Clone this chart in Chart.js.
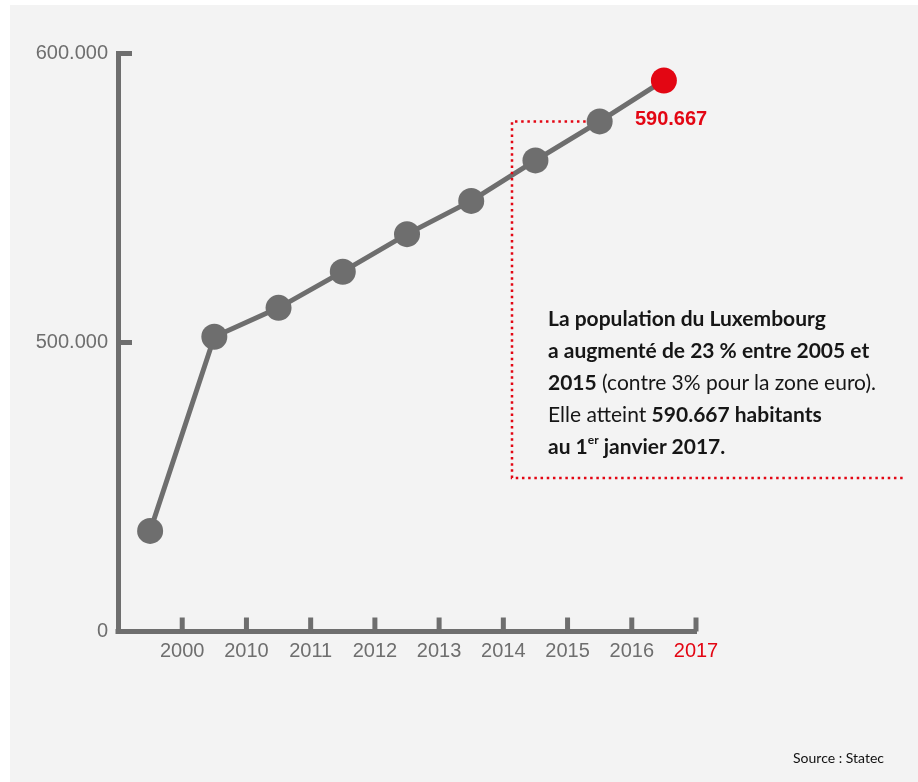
<!DOCTYPE html>
<html>
<head>
<meta charset="utf-8">
<script src="https://cdn.jsdelivr.net/npm/chart.js@4.4.1/dist/chart.umd.min.js"></script>
<style>
  body { margin: 0; background: #fff; }
  .frame { position: relative; width: 918px; height: 782px; overflow: hidden; }
  .bg { position: absolute; left: 10px; top: 5px; right: 0; bottom: 0; background: #f3f3f3; }
  canvas { position: absolute; left: 0; top: 0; }
  .note {
    position: absolute; left: 548px; top: 302px;
    font-family: Lato, "Open Sans", sans-serif; font-size: 21px; line-height: 32px;
    color: #161616; white-space: nowrap;
  }
  .note b { font-weight: 700; }
  .note sup { font-size: 12px; line-height: 0; position: relative; top: -2px; }
  .source {
    position: absolute; right: 34px; top: 749px;
    font-family: Lato, "Open Sans", sans-serif; font-size: 14px; line-height: 18px; color: #111;
  }
</style>
</head>
<body>
<div class="frame">
  <div class="bg"></div>
  <canvas id="chart" width="918" height="782"></canvas>
  <div class="note">
    <b>La population du Luxembourg</b><br>
    <b>a augmenté de 23 % entre 2005 et</b><br>
    <b>2015</b> (contre 3% pour la zone euro).<br>
    Elle atteint <b>590.667 habitants</b><br>
    <b>au 1<sup>er</sup> janvier 2017.</b>
  </div>
  <div class="source">Source : Statec</div>
</div>
<script>
const years = ["2000", "2010", "2011", "2012", "2013", "2014", "2015", "2016", "2017"];
const population = [174000, 502000, 512000, 524500, 537500, 549000, 563000, 576500, 590667];
const yTicks = [0, 500000, 600000];

const GREY = "#6e6e6e";
const RED = "#e30613";

// y axis is broken: 0-500.000 takes the lower half, 500.000-600.000 the upper half
class BrokenScale extends Chart.LinearScale {
  getPixelForValue(value) {
    const f = value <= 500000 ? 0.5 * value / 500000 : 0.5 + 0.5 * (value - 500000) / 100000;
    return this.getPixelForDecimal(f);
  }
  getValueForPixel(pixel) {
    const f = this.getDecimalForPixel(pixel);
    return f <= 0.5 ? f * 2 * 500000 : 500000 + (f - 0.5) * 2 * 100000;
  }
}
BrokenScale.id = "broken";
BrokenScale.defaults = Chart.LinearScale.defaults;
Chart.register(BrokenScale);

const decor = {
  id: "decor",
  beforeDatasetsDraw(chart) {
    const { ctx, scales: { x, y } } = chart;
    ctx.save();
    ctx.strokeStyle = GREY;
    ctx.lineWidth = 5;
    // inward tick marks
    x.ticks.forEach((t) => {
      const px = x.getPixelForValue(t.value);
      ctx.beginPath();
      ctx.moveTo(px, y.bottom);
      ctx.lineTo(px, y.bottom - 14);
      ctx.stroke();
    });
    yTicks.slice(1).forEach((v) => {
      const py = y.getPixelForValue(v);
      ctx.beginPath();
      ctx.moveTo(x.left - 2, py);
      ctx.lineTo(x.left + 14, py);
      ctx.stroke();
    });
    // corner
    ctx.fillStyle = GREY;
    ctx.fillRect(x.left - 2.5, y.bottom - 2.5, 5, 5);
    ctx.restore();
  },
  afterDatasetsDraw(chart) {
    const { ctx } = chart;
    const pts = chart.getDatasetMeta(0).data;
    const last = pts[pts.length - 1];
    const prev = pts[pts.length - 2];
    ctx.save();
    // dotted frame round the note
    ctx.strokeStyle = RED;
    ctx.lineWidth = 2.5;
    ctx.setLineDash([2.5, 3.7]);
    ctx.beginPath();
    ctx.moveTo(prev.x - 14, prev.y);
    ctx.lineTo(512, prev.y);
    ctx.lineTo(512, 478);
    ctx.lineTo(904, 478);
    ctx.stroke();
    ctx.setLineDash([]);
    // value label
    ctx.fillStyle = RED;
    ctx.font = "bold 20px 'Liberation Sans', Arial, sans-serif";
    ctx.textAlign = "left";
    ctx.textBaseline = "middle";
    ctx.fillText("590.667", last.x - 29, last.y + 39);
    ctx.restore();
  }
};

new Chart(document.getElementById("chart"), {
  type: "line",
  data: {
    datasets: [{
      data: population.map((v, i) => ({ x: i + 0.5, y: v })),
      borderColor: GREY,
      borderWidth: 5,
      pointRadius: 13,
      pointHoverRadius: 13,
      pointBorderWidth: 0,
      pointBackgroundColor: population.map((_, i) => (i === population.length - 1 ? RED : GREY)),
      tension: 0,
      clip: false
    }]
  },
  options: {
    responsive: false,
    animation: false,
    devicePixelRatio: 1,
    layout: { padding: { left: 0, top: 53.5, right: 222, bottom: 90.5 } },
    plugins: { legend: { display: false }, tooltip: { enabled: false } },
    scales: {
      x: {
        type: "linear",
        min: 0,
        max: years.length,
        afterFit: (axis) => { axis.height = 60; },
        afterBuildTicks: (axis) => { axis.ticks = years.map((_, i) => ({ value: i + 1 })); },
        grid: { display: false, drawTicks: false },
        border: { display: true, color: GREY, width: 5 },
        ticks: {
          autoSkip: false,
          maxRotation: 0,
          padding: 8,
          font: { family: "'Liberation Sans', Arial, sans-serif", size: 20 },
          color: (c) => (c.index === years.length - 1 ? RED : GREY),
          callback: (v) => years[v - 1]
        }
      },
      y: {
        type: "broken",
        min: 0,
        max: 600000,
        afterFit: (axis) => { axis.width = 118; },
        afterBuildTicks: (axis) => { axis.ticks = yTicks.map((v) => ({ value: v })); },
        grid: { display: false, drawTicks: false },
        border: { display: true, color: GREY, width: 5 },
        ticks: {
          padding: 10,
          font: { family: "'Liberation Sans', Arial, sans-serif", size: 20 },
          color: GREY,
          callback: (v) => (v === 0 ? "0" : v / 1000 + ".000")
        }
      }
    }
  },
  plugins: [decor]
});
</script>
</body>
</html>
